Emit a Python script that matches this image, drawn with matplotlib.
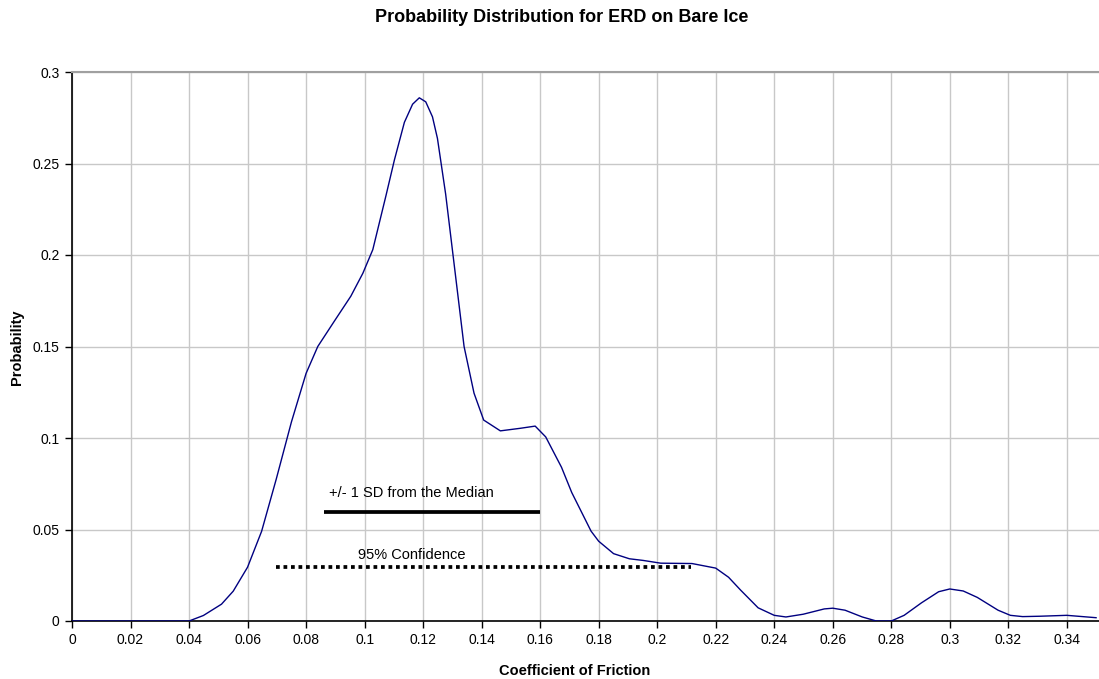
import matplotlib
matplotlib.use("Agg")
import matplotlib.pyplot as plt

# Data
cof = [0, 0.01, 0.02, 0.03, 0.04, 0.0449, 0.0511, 0.0551, 0.06, 0.0648, 0.0698, 0.075,
       0.08, 0.084, 0.0896, 0.0953, 0.0994, 0.1028, 0.1073, 0.1102, 0.1136, 0.1164,
       0.1187, 0.1209, 0.1232, 0.1249, 0.1277, 0.1306, 0.134, 0.1374, 0.1407, 0.1464,
       0.1532, 0.1583, 0.1619, 0.1673, 0.1708, 0.1774, 0.18, 0.1851, 0.1905, 0.1952,
       0.2012, 0.2119, 0.22, 0.2244, 0.2285, 0.2345, 0.24, 0.244, 0.2499, 0.2571, 0.26,
       0.2642, 0.2701, 0.2749, 0.28, 0.2844, 0.2903, 0.2962, 0.3, 0.3046, 0.3094,
       0.3165, 0.3207, 0.3249, 0.3307, 0.34, 0.35]
prob = [0, 0, 0, 0, 0, 0.003, 0.0092, 0.0163, 0.0294, 0.049, 0.0775, 0.1088,
        0.1353, 0.15, 0.1637, 0.1775, 0.190, 0.2029, 0.2324, 0.252, 0.2725, 0.2824,
        0.2859, 0.2837, 0.2755, 0.2637, 0.2333, 0.195, 0.15, 0.1245, 0.1098, 0.1039,
        0.1053, 0.1065, 0.1006, 0.084, 0.0702, 0.0491, 0.0436, 0.0368, 0.034, 0.0331,
        0.0316, 0.0314, 0.0289, 0.0239, 0.0169, 0.0072, 0.0031, 0.0022, 0.0037, 0.0066, 0.007,
        0.0059, 0.0022, 0.0, 0.0, 0.0031, 0.0099, 0.016, 0.0175, 0.0164, 0.0129,
        0.0059, 0.0031, 0.0024, 0.0026, 0.0031, 0.0018]

sd_range = [0.0862, 0.1598]
sd_level = 0.0597
ci_range = [0.0697, 0.2116]
ci_level = 0.0295

x_ticks = [0, 0.02, 0.04, 0.06, 0.08, 0.1, 0.12, 0.14, 0.16, 0.18, 0.2, 0.22, 0.24,
           0.26, 0.28, 0.3, 0.32, 0.34]
x_tick_labels = ["0", "0.02", "0.04", "0.06", "0.08", "0.1", "0.12", "0.14", "0.16",
                 "0.18", "0.2", "0.22", "0.24", "0.26", "0.28", "0.3", "0.32", "0.34"]
y_ticks = [0, 0.05, 0.1, 0.15, 0.2, 0.25, 0.3]
y_tick_labels = ["0", "0.05", "0.1", "0.15", "0.2", "0.25", "0.3"]

plt.rcParams['font.family'] = ['Liberation Sans', 'DejaVu Sans']

W, H = 1099, 679
fig = plt.figure(figsize=(W / 100, H / 100), dpi=100)
left_px, right_px, top_px, bottom_px = 72, 1099, 72, 621
ax = fig.add_axes([left_px / W, 1 - bottom_px / H, (right_px - left_px) / W,
                   (bottom_px - top_px) / H])

ax.plot(cof, prob, color='#000080', lw=1.0, zorder=3)
ax.plot(sd_range, [sd_level, sd_level], color='black', lw=2.7, solid_capstyle='butt', zorder=3)
ax.plot(ci_range, [ci_level, ci_level], color='black', lw=2.7, linestyle=(0, (1, 1)),
        dash_capstyle='butt', zorder=3)
ax.text(0.0878, 0.0700, "+/- 1 SD from the Median", fontsize=10.5, va='center', ha='left')
ax.text(0.1160, 0.0360, "95% Confidence", fontsize=10.5, va='center', ha='center')

ax.set_xlim(0, 0.351)
ax.set_ylim(0, 0.3)
ax.set_xticks(x_ticks)
ax.set_xticklabels(x_tick_labels, fontsize=10)
ax.set_yticks(y_ticks)
ax.set_yticklabels(y_tick_labels, fontsize=10)
ax.grid(True, color='#c8c8c8', lw=1)
ax.set_axisbelow(True)
ax.tick_params(direction='out', length=5, width=1, color='black', pad=4)

ax.spines['right'].set_visible(False)
ax.spines['top'].set_color('#a0a0a0')
ax.spines['top'].set_linewidth(1.5)
ax.spines['left'].set_color('black')
ax.spines['bottom'].set_color('black')
ax.spines['left'].set_linewidth(1.2)
ax.spines['bottom'].set_linewidth(1.2)

fig.text(575 / W, 1 - 671 / H, "Coefficient of Friction", fontsize=10.5,
         fontweight='bold', ha='center', va='center')
fig.text(17 / W, 1 - 347 / H, "Probability", fontsize=10.5, fontweight='bold',
         ha='center', va='center', rotation=90)
fig.text(562 / W, 1 - 18 / H, "Probability Distribution for ERD on Bare Ice",
         fontsize=13, fontweight='bold', ha='center', va='center')

fig.savefig("out.png", dpi=100)
